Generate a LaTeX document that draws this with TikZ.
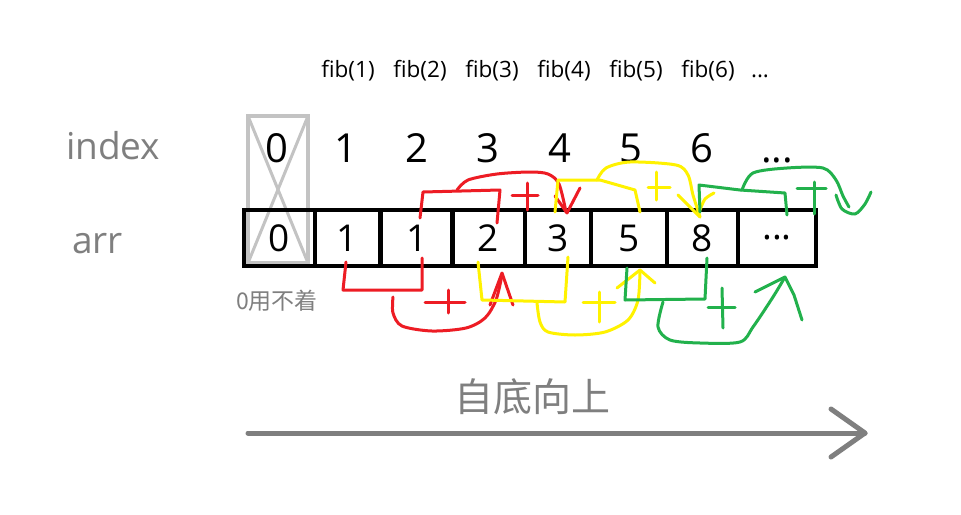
\documentclass[tikz,border=0pt]{standalone}
\usepackage{fontspec}
\setmainfont{Open Sans}
\newfontfamily\cjkfont{Noto Sans CJK SC}
\begin{document}
\begin{tikzpicture}[x=1pt,y=-1pt,
  every node/.style={inner sep=0pt, outer sep=0pt},
  cell/.style={draw=black, line width=4.5pt, minimum height=56pt, font=\fontsize{37}{37}\selectfont},
  idx/.style={font=\fontsize{40}{40}\selectfont, anchor=base},
  fibl/.style={font=\fontsize{22.5}{22.5}\selectfont, anchor=base},
  greytxt/.style={text=txtgray},
  pen/.style={line width=3pt, line cap=round, line join=round},
  redpen/.style={pen, draw=penred},
  yelpen/.style={pen, draw=penyel},
  grnpen/.style={pen, draw=pengrn}]
\definecolor{txtgray}{HTML}{7F7F7F}
\definecolor{boxgray}{HTML}{C3C3C3}
\definecolor{penred}{HTML}{ED1C24}
\definecolor{penyel}{HTML}{FFF200}
\definecolor{pengrn}{HTML}{22B14C}
\useasboundingbox (0,0) rectangle (961,514);
\fill[white] (0,0) rectangle (961,514);

% labels on the left
\node[greytxt, font=\fontsize{37}{37}\selectfont, anchor=base west] (lindex) at (66,159) {index};
\node[greytxt, font=\fontsize{37}{37}\selectfont, anchor=base west] (larr) at (72,253) {arr};

% fib labels
\node[fibl] (f1) at (348,77) {fib(1)};
\node[fibl] (f2) at (420,77) {fib(2)};
\node[fibl] (f3) at (492,77) {fib(3)};
\node[fibl] (f4) at (564,77) {fib(4)};
\node[fibl] (f5) at (636,77) {fib(5)};
\node[fibl] (f6) at (708,77) {fib(6)};
\node[fibl] (f7) at (760,77) {...};

% crossed-out box for index 0
\node[draw=boxgray, line width=4pt, minimum width=60pt, minimum height=147pt] (gbox) at (278,189.5) {};
\draw[boxgray, line width=3pt] (gbox.north west) -- (gbox.south east);
\draw[boxgray, line width=3pt] (gbox.north east) -- (gbox.south west);

% index numbers
\node[idx] (i0) at (277,162) {0};
\node[idx] (i1) at (346,162) {1};
\node[idx] (i2) at (417,162) {2};
\node[idx] (i3) at (488,162) {3};
\node[idx] (i4) at (560,162) {4};
\node[idx] (i5) at (631,162) {5};
\node[idx] (i6) at (702,162) {6};
\node[idx] (i7) at (777,162) {...};

% array cells
\node[cell, minimum width=71pt] (c0) at (279.5,238) {0};
\node[cell, minimum width=65pt] (c1) at (347.5,238) {1};
\node[cell, minimum width=72pt] (c2) at (417,238) {1};
\node[cell, minimum width=73pt] (c3) at (488.5,238) {2};
\node[cell, minimum width=66pt] (c4) at (558,238) {3};
\node[cell, minimum width=76pt] (c5) at (629,238) {5};
\node[cell, minimum width=71pt] (c6) at (702.5,238) {8};
\node[cell, minimum width=78pt] (c7) at (777,238) {...};

\node[greytxt, font=\cjkfont\fontsize{23}{23}\selectfont, anchor=base west] (unused) at (236,309) {0用不着};

% ---- red strokes ----
\draw[redpen] (346,262) -- (343,290) -- (422,290) -- (422,258);
\draw[redpen] (425,302) -- (465,302);
\draw[redpen] (448,290) -- (448,313);
\draw[redpen] plot[smooth] coordinates {(393,297) (393,313) (402,326) (432,331) (466,328) (485,318) (496,300) (502,275)};
\draw[redpen] (490,305) -- (502,273) -- (513,305);
\draw[redpen] (420,218) -- (423,192) -- (500,190) -- (497,223);
\draw[redpen] (512,195) -- (538,195);
\draw[redpen] (527,183) -- (527,210);
\draw[redpen] plot[smooth] coordinates {(457,190) (468,180) (497,174) (530,172) (548,174) (559,184) (566,212)};
\draw[redpen] (555,196) -- (567,213) -- (580,188);

% ---- yellow strokes ----
\draw[yelpen] (478,262) -- (482,300) -- (565,302) -- (568,257);
\draw[yelpen] (583,302) -- (615,302);
\draw[yelpen] (599,292) -- (599,322);
\draw[yelpen] plot[smooth] coordinates {(537,303) (540,322) (548,332) (575,335) (605,332) (628,320) (638,300) (640,270)};
\draw[yelpen] (617,288) -- (640,270) -- (655,283);
\draw[yelpen] (555,212) -- (558,180) -- (600,180) -- (635,190) -- (640,212);
\draw[yelpen] (648,187) -- (670,187);
\draw[yelpen] (656,172) -- (656,200);
\draw[yelpen] plot[smooth] coordinates {(597,180) (606,168) (630,162) (676,165) (688,175) (693,195) (700,217)};
\draw[yelpen] (678,195) -- (700,217);
\draw[yelpen] plot[smooth] coordinates {(700,210) (705,199) (714,193)};

% ---- green strokes ----
\draw[grnpen] (627,268) -- (625,300) -- (705,299) -- (707,258);
\draw[grnpen] (708,307) -- (735,307);
\draw[grnpen] (722,288) -- (723,328);
\draw[grnpen] plot[smooth] coordinates {(663,302) (658,327) (670,340) (700,343) (740,342) (753,327) (773,297) (785,277)};
\draw[grnpen] (755,292) -- (785,277) -- (794,295) -- (802,320);
\draw[grnpen] (700,212) -- (699,185) -- (740,190) -- (785,193) -- (787,215);
\draw[grnpen] (797,188) -- (826,188);
\draw[grnpen] (814,182) -- (814,214);
\draw[grnpen] plot[smooth] coordinates {(742,190) (753,173) (787,168) (823,168) (836,180) (843,196) (849,207)};
\draw[grnpen] plot[smooth] coordinates {(836,195) (842,209) (855,214) (865,204) (871,192)};

% ---- bottom arrow ----
\node[greytxt, font=\cjkfont\fontsize{39}{39}\selectfont, anchor=base] (bu) at (532,411) {自底向上};
\coordinate (as) at (248,433);
\coordinate (ae) at (865,433);
\coordinate (au) at (831,409);
\coordinate (ad) at (831,457);
\draw[txtgray, line width=5pt, line cap=round, line join=round] (as) -- (ae);
\draw[txtgray, line width=5pt, line cap=round, line join=round] (au) -- (ae) -- (ad);
\end{tikzpicture}
\end{document}
